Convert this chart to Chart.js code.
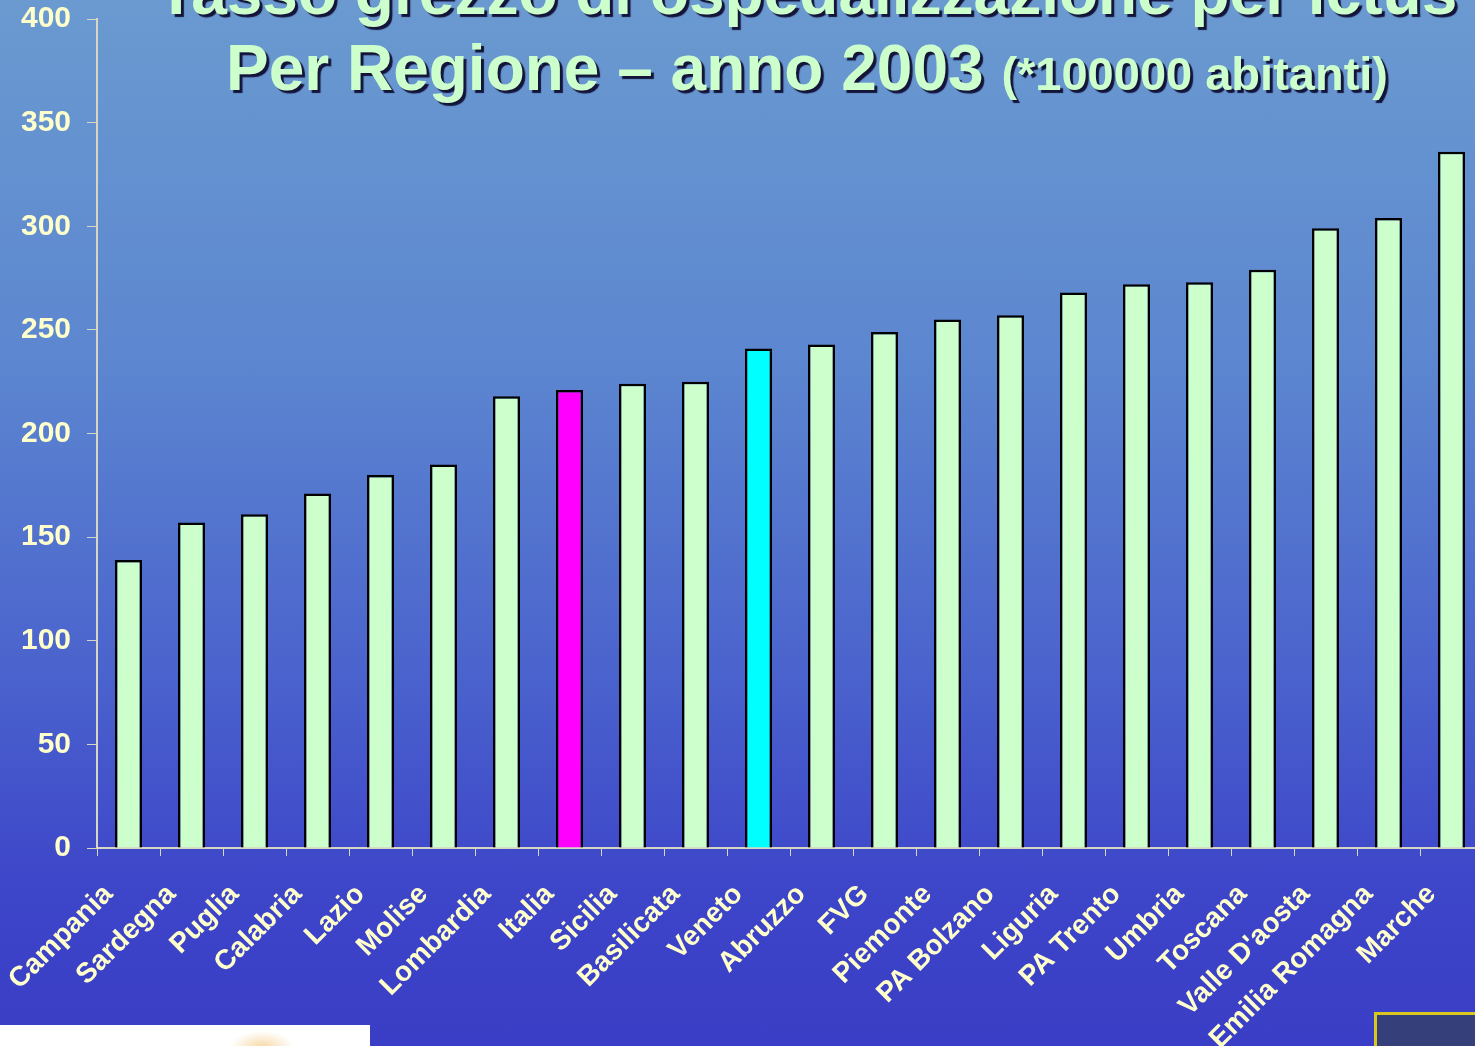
<!DOCTYPE html>
<html>
<head>
<meta charset="utf-8">
<script src="https://cdn.jsdelivr.net/npm/chart.js@4.4.1/dist/chart.umd.min.js"></script>
<style>
  html, body { margin: 0; padding: 0; }
  body {
    width: 1475px; height: 1046px; overflow: hidden; position: relative;
    background: linear-gradient(to bottom, #6a9ad0 0%, #5c86d0 35%, #4a62cd 65%, #3d45c9 85%, #3a3ec6 100%);
    font-family: "Liberation Sans", Arial, sans-serif;
  }
  #wrap { position: absolute; left: 0; top: 0; width: 1483px; height: 1046px; }
  .title {
    position: absolute; left: 0; width: 1614px; text-align: center;
    white-space: nowrap; font-weight: bold; color: #ccffcc;
    font-size: 64px; line-height: 64px;
    text-shadow: 3px 3px 1px #14143a;
  }
  .title small { font-size: 47px; }
  #logoL { position: absolute; left: 0; top: 1025px; width: 370px; height: 21px;
    background: radial-gradient(ellipse 40px 20px at 262px 22px, #f7d9a8, #fff 80%); }
  #logoR { position: absolute; left: 1374px; top: 1012px; width: 110px; height: 40px;
    border: 3px solid #d8c81c; background: #35407a; }
</style>
</head>
<body>
<div id="wrap"><canvas id="ch" width="1483" height="1046"></canvas></div>
<div class="title" style="top:-40px">Tasso grezzo di ospedalizzazione per ictus</div>
<div class="title" style="top:36px">Per Regione – anno 2003 <small>(*100000 abitanti)</small></div>
<div id="logoL"></div>
<div id="logoR"></div>
<script>
/* ── Data ── */
var regioni = ['Campania', 'Sardegna', 'Puglia', 'Calabria', 'Lazio', 'Molise', 'Lombardia',
  'Italia', 'Sicilia', 'Basilicata', 'Veneto', 'Abruzzo', 'FVG', 'Piemonte', 'PA Bolzano',
  'Liguria', 'PA Trento', 'Umbria', 'Toscana', "Valle D'aosta", 'Emilia Romagna', 'Marche'];
var tassi = [139, 157, 161, 171, 180, 185, 218, 221, 224, 225, 241, 243, 249, 255, 257,
  268, 272, 273, 279, 299, 304, 336];
var yTicks = [0, 50, 100, 150, 200, 250, 300, 350, 400];

/* ── Styles ── */
var axisCol = '#d6d6c2';
var labelCol = '#ffffcc';
function barColor(name) {
  if (name === 'Italia') return '#ff00ff';
  if (name === 'Veneto') return '#00ffff';
  return '#ccffcc';
}

new Chart(document.getElementById('ch'), {
  type: 'bar',
  data: {
    labels: regioni,
    datasets: [{
      data: tassi,
      backgroundColor: regioni.map(barColor),
      borderColor: '#000',
      borderWidth: 2.5,
      barPercentage: 0.43,
      categoryPercentage: 1
    }]
  },
  options: {
    responsive: false,
    animation: false,
    layout: { padding: { top: 19, right: 0, left: 0, bottom: 0 } },
    plugins: { legend: { display: false }, tooltip: { enabled: false } },
    scales: {
      x: {
        grid: { drawOnChartArea: false, color: axisCol, tickLength: 8, offset: true },
        border: { color: axisCol, width: 2 },
        ticks: {
          color: labelCol, minRotation: 45, maxRotation: 45, autoSkip: false,
          padding: 22, labelOffset: -20,
          font: { family: 'Liberation Sans, Arial', size: 28, weight: 'bold' }
        },
        afterFit: function(a) { a.height = 198; a.paddingLeft = 0; a.paddingRight = 0; }
      },
      y: {
        min: 0, max: 400,
        afterBuildTicks: function(a) { a.ticks = yTicks.map(function(v) { return { value: v }; }); },
        grid: { drawOnChartArea: false, color: axisCol, tickLength: 10 },
        border: { color: axisCol, width: 2 },
        ticks: {
          color: labelCol, padding: 16,
          font: { family: 'Liberation Sans, Arial', size: 30, weight: 'bold' }
        },
        afterFit: function(a) { a.width = 97; a.paddingTop = 0; a.paddingBottom = 0; }
      }
    }
  }
});
</script>
</body>
</html>
